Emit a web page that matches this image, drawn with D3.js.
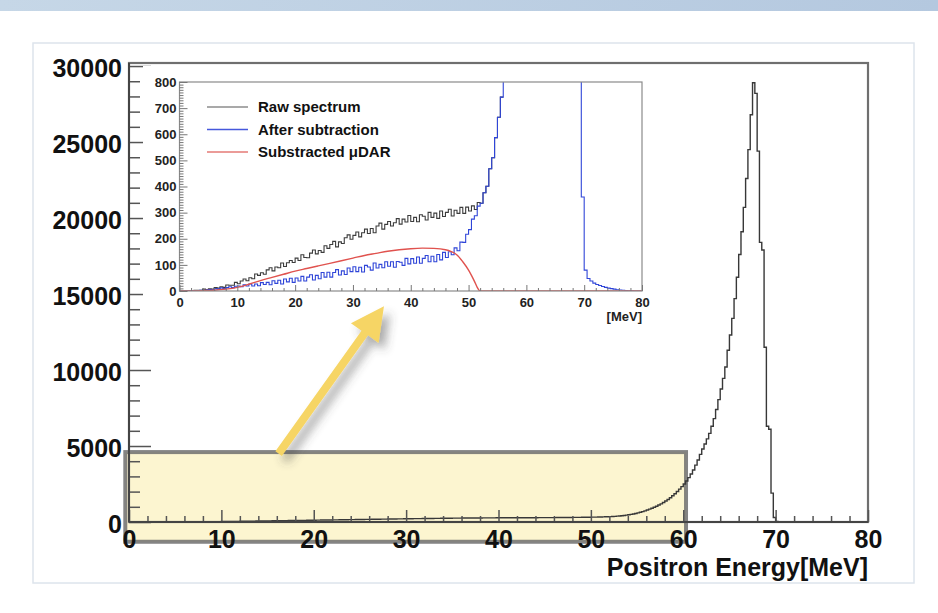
<!DOCTYPE html>
<html>
<head>
<meta charset="utf-8">
<script src="https://cdn.jsdelivr.net/npm/d3@7"></script>
<style>
  body { margin: 0; background: #ffffff; }
  svg { display: block; font-family: "Liberation Sans", Arial, Helvetica, sans-serif; font-weight: bold; }
</style>
</head>
<body>
<div class="chartContainer"></div>
<script>
// main histogram, 0.25 MeV bins from 0 to 80 MeV (one row = 5 MeV)
var mainBinWidth = 0.25;
var mainCounts = [
    0,0,0,0,1,1,1,1,2,2,2,3,3,3,4,4,5,5,6,6,
    7,7,8,9,10,11,12,13,14,15,16,17,18,19,21,22,23,24,26,27,
    29,31,33,35,37,39,41,43,46,48,50,52,55,57,59,62,64,66,68,71,
    73,75,78,80,82,85,87,89,92,94,96,99,101,103,106,108,110,113,115,117,
    120,122,124,127,129,131,134,136,138,141,143,145,148,150,152,155,157,159,162,164,
    166,169,171,173,176,178,180,183,185,187,190,192,194,197,199,201,204,206,208,211,
    213,215,217,219,221,223,225,227,229,231,233,235,237,239,241,243,245,247,249,251,
    253,254,256,257,259,260,262,263,264,265,266,267,268,269,270,271,272,273,274,275,
    276,276,277,278,278,279,279,280,280,281,281,282,282,283,283,284,284,285,285,286,
    287,288,289,290,291,292,293,294,296,297,299,300,302,303,305,307,309,311,313,315,
    318,321,324,328,332,337,342,348,355,363,372,384,398,414,432,452,475,500,528,560,
    600,640,685,735,790,845,905,970,1040,1115,1195,1285,1380,1485,1600,1725,1860,2005,2160,2330,
    2500,2700,2920,3160,3420,3740,4080,4450,4800,5130,5470,5830,6300,6800,7400,8050,8750,9450,10200,11300,
    12300,13400,14700,16100,17600,19100,20700,22600,24500,26800,28900,28200,24400,18400,17900,11500,6300,6100,1900,300,
    40,12,6,4,3,2,2,1,1,1,0,0,0,0,0,0,0,0,0,0,
    0,0,0,0,0,0,0,0,0,0,0,0,0,0,0,0,0,0,0,0
];

// inset, 0.5 MeV bins (one row = 5 MeV)
var insetBinWidth = 0.5;
// raw spectrum, 0 - 56 MeV (above that it sits under the blue one)
var rawCounts = [
    0,0,1,2,1,3,3,3,7,5,
    8,7,13,11,16,14,23,22,22,33,
    28,38,46,39,51,47,65,60,70,64,
    81,89,77,92,89,107,94,108,117,109,
    126,117,139,128,127,145,157,142,155,148,
    173,163,178,190,169,188,182,204,215,198,
    213,226,207,223,237,220,239,223,249,260,
    237,255,266,249,261,277,256,275,264,289,
    266,282,265,292,286,272,301,282,298,278,
    306,285,301,313,287,309,297,320,297,321,
    306,326,312,339,336,376,401,468,510,587,
    665,742
];
// after subtraction, 0 - 80 MeV
var subtractedCounts = [
    0,0,1,0,2,1,1,3,2,4,
    6,4,9,7,12,9,13,16,13,18,
    19,16,24,19,27,19,27,20,32,25,
    33,24,39,29,41,27,46,35,49,33,
    50,38,56,38,53,62,42,60,47,71,
    53,72,53,71,82,61,77,63,88,74,
    93,74,91,73,98,92,80,107,88,102,
    89,112,95,112,91,113,110,98,125,104,
    124,106,130,106,125,136,112,133,112,140,
    119,148,128,150,139,165,154,187,186,217,
    235,275,288,325,336,376,401,468,510,587,
    665,742,850,985,1160,1340,1570,1830,2140,2500,
    2900,3450,4000,4700,5400,6200,7100,8200,9600,11200,
    13300,16000,19200,22600,26500,28600,21500,15000,5500,360,
    80,48,38,30,25,21,17,14,11,9,
    7,5,4,3,2,1,1,0,0,0
];
// subtracted mu decay-at-rest curve (smooth)
var darEnergy = [0,2,4,6,8,10,12,14,16,18,20,22,24,26,28,30,32,34,36,38,40,42,44,46,47,48,49,50,50.5,51,51.5,52,60,70,80];
var darCounts = [0,0.5,1.5,3,7,14,26,40,52,64,76,86,96,106,116,126,136,144,152,158,162,164,163,158,151,138,112,80,60,38,14,0,0,0,0];

var mainXTicks = [0,10,20,30,40,50,60,70,80];
var mainYTicks = [0,5000,10000,15000,20000,25000,30000];
var insetXTicks = [0,10,20,30,40,50,60,70,80];
var insetYTicks = [0,100,200,300,400,500,600,700,800];
var legendLabels = ['Raw spectrum', 'After subtraction', 'Substracted \u03bcDAR'];
var xTitle = 'Positron Energy[MeV]';
var insetUnit = '[MeV]';

// the highlighted region and the arrow, in main chart units (MeV, counts)
var zoomBox = {e0: -0.4, e1: 60.3, c0: -1300, c1: 4600};
var arrowFrom = [16.2, 4500];
var arrowTo = [27.6, 14200];

function binsToPoints(counts, bw) {
    var pts = counts.map((c, i) => [i * bw, c]);
    pts.push([counts.length * bw, counts[counts.length - 1]]);
    return pts;
}

function Graph() {
    const width = 938;
    const height = 613;

    const svg = d3.select('.chartContainer')
                  .append('svg')
                    .attr('width', width)
                    .attr('height', height);

    const defs = svg.append('defs');
    const grad = defs.append('linearGradient').attr('id', 'band');
    grad.append('stop').attr('offset', '0%').attr('stop-color', '#c6d7e7');
    grad.append('stop').attr('offset', '100%').attr('stop-color', '#b4c8df');

    const shadow = defs.append('filter').attr('id', 'shadow')
                       .attr('x', '-50%').attr('y', '-50%').attr('width', '200%').attr('height', '200%');
    shadow.append('feDropShadow')
          .attr('dx', 6).attr('dy', 7).attr('stdDeviation', 5)
          .attr('flood-color', '#444').attr('flood-opacity', 0.45);

    // page decoration: top band + card
    svg.append('rect').attr('x', 0).attr('y', 0).attr('width', width).attr('height', 11).attr('fill', 'url(#band)');
    svg.append('rect').attr('x', 33).attr('y', 43).attr('width', 881).attr('height', 540)
       .attr('fill', '#fff').attr('stroke', '#dde4ec').attr('stroke-width', 1.5);

    // main chart scales
    const xMain = d3.scaleLinear().domain([0, 80]).range([129, 868]);
    const yMain = d3.scaleLinear().domain([0, 30200]).range([522, 63]);

    // yellow highlight box (under everything)
    const box = svg.append('rect')
       .attr('x', xMain(zoomBox.e0))
       .attr('y', yMain(zoomBox.c1))
       .attr('width', xMain(zoomBox.e1) - xMain(zoomBox.e0))
       .attr('height', yMain(zoomBox.c0) - yMain(zoomBox.c1))
       .attr('fill', '#f8e78e').attr('fill-opacity', 0.42);

    // main histogram
    const stepLine = (xs, ys) => d3.line().x(d => xs(d[0])).y(d => ys(d[1])).curve(d3.curveStepAfter);
    svg.append('path')
       .datum(binsToPoints(mainCounts, mainBinWidth))
       .attr('d', stepLine(xMain, yMain))
       .attr('fill', 'none').attr('stroke', '#383838').attr('stroke-width', 1.4);

    // frame
    svg.append('rect').attr('x', 129).attr('y', 63).attr('width', 739).attr('height', 459)
       .attr('fill', 'none').attr('stroke', '#6f6f6f').attr('stroke-width', 2.2);

    // minor ticks
    const minorY = d3.range(0, 30001, 1000).filter(v => v % 5000 !== 0);
    svg.append('g').attr('transform', 'translate(129,0)')
       .call(d3.axisLeft(yMain).tickValues(minorY).tickSize(-11).tickFormat(''))
       .call(g => g.select('.domain').remove());
    const minorX = d3.range(0, 81, 2).filter(v => v % 10 !== 0);
    svg.append('g').attr('transform', 'translate(0,522)')
       .call(d3.axisBottom(xMain).tickValues(minorX).tickSize(-6).tickFormat(''))
       .call(g => g.select('.domain').remove());

    // major ticks and labels
    const yAx = svg.append('g').attr('transform', 'translate(129,0)')
       .call(d3.axisLeft(yMain).tickValues(mainYTicks).tickSize(-22).tickPadding(7).tickFormat(d3.format('d')));
    const xAx = svg.append('g').attr('transform', 'translate(0,522)')
       .call(d3.axisBottom(xMain).tickValues(mainXTicks).tickSize(-12).tickPadding(8));
    [yAx, xAx].forEach(g => {
        g.select('.domain').remove();
        g.attr('font-family', null).attr('font-size', null);
        g.selectAll('text').attr('font-size', 25).attr('fill', '#111');
    });
    yAx.selectAll('text').attr('dy', '0.4em');
    svg.selectAll('.tick line').attr('stroke', '#555').attr('stroke-width', 1.5);

    // axis lines
    svg.append('line').attr('x1', 129).attr('x2', 129).attr('y1', 63).attr('y2', 522).attr('stroke', '#444').attr('stroke-width', 2);
    svg.append('line').attr('x1', 129).attr('x2', 868).attr('y1', 522).attr('y2', 522).attr('stroke', '#444').attr('stroke-width', 2);

    svg.append('text')
       .attr('x', 868).attr('y', 576)
       .attr('text-anchor', 'end')
       .attr('font-size', 25).attr('fill', '#111')
       .text(xTitle);

    // box border drawn over the axis
    box.clone()
       .attr('fill', 'none')
       .attr('stroke', '#6e6e6e').attr('stroke-opacity', 0.85).attr('stroke-width', 4);

    // ---- inset pad ----
    svg.append('rect').attr('x', 143).attr('y', 66).attr('width', 515).attr('height', 260).attr('fill', '#fff');

    const xIn = d3.scaleLinear().domain([0, 80]).range([179.5, 642]);
    const yIn = d3.scaleLinear().domain([0, 800]).range([291, 82]);

    defs.append('clipPath').attr('id', 'insetClip')
        .append('rect').attr('x', 179.5).attr('y', 82).attr('width', 462.5).attr('height', 209);

    const inset = svg.append('g');
    const curves = inset.append('g').attr('clip-path', 'url(#insetClip)');

    curves.append('path')
          .datum(binsToPoints(rawCounts, insetBinWidth))
          .attr('d', stepLine(xIn, yIn))
          .attr('fill', 'none').attr('stroke', '#3c3c3c').attr('stroke-width', 1.1);
    curves.append('path')
          .datum(binsToPoints(subtractedCounts, insetBinWidth))
          .attr('d', stepLine(xIn, yIn))
          .attr('fill', 'none').attr('stroke', '#2f45d8').attr('stroke-width', 1.1);
    curves.append('path')
          .datum(darEnergy.map((e, i) => [e, darCounts[i]]))
          .attr('d', d3.line().x(d => xIn(d[0])).y(d => yIn(d[1])).curve(d3.curveMonotoneX))
          .attr('fill', 'none').attr('stroke', '#e0524e').attr('stroke-width', 1.4);

    inset.append('rect').attr('x', 179.5).attr('y', 82).attr('width', 462.5).attr('height', 209)
         .attr('fill', 'none').attr('stroke', '#8a8a8a').attr('stroke-width', 1.2);

    // inset ticks
    inset.append('g').attr('transform', 'translate(179.5,0)')
         .call(d3.axisLeft(yIn).tickValues(d3.range(0, 801, 10).filter(v => v % 100 !== 0)).tickSize(-4).tickFormat(''))
         .call(g => g.select('.domain').remove());
    inset.append('g').attr('transform', 'translate(0,291)')
         .call(d3.axisBottom(xIn).tickValues(d3.range(0, 81, 2).filter(v => v % 10 !== 0)).tickSize(-3).tickFormat(''))
         .call(g => g.select('.domain').remove());
    const yInAx = inset.append('g').attr('transform', 'translate(179.5,0)')
         .call(d3.axisLeft(yIn).tickValues(insetYTicks).tickSize(-8).tickPadding(3));
    const xInAx = inset.append('g').attr('transform', 'translate(0,291)')
         .call(d3.axisBottom(xIn).tickValues(insetXTicks).tickSize(-6).tickPadding(7));
    [yInAx, xInAx].forEach(g => {
        g.select('.domain').remove();
        g.attr('font-family', null).attr('font-size', null);
        g.selectAll('text').attr('font-size', 13).attr('fill', '#222');
    });
    inset.selectAll('.tick line').attr('stroke', '#777').attr('stroke-width', 1);

    inset.append('text')
         .attr('x', 642).attr('y', 321)
         .attr('text-anchor', 'end')
         .attr('font-size', 13).attr('fill', '#222')
         .text(insetUnit);

    // legend (the sample lines look paler than the curves in the original)
    const legendColours = ['#8c8c8c', '#4658dc', '#e47a76'];
    const legendY = [107, 129.5, 152];
    legendLabels.forEach((lab, i) => {
        inset.append('line')
             .attr('x1', 207).attr('x2', 248).attr('y1', legendY[i]).attr('y2', legendY[i])
             .attr('stroke', legendColours[i]).attr('stroke-width', 1.5);
        inset.append('text')
             .attr('x', 258).attr('y', legendY[i] + 5.4)
             .attr('font-size', 15).attr('fill', '#111')
             .text(lab);
    });

    // arrow from the yellow box up to the inset
    const p0 = [xMain(arrowFrom[0]), yMain(arrowFrom[1])];
    const p1 = [xMain(arrowTo[0]), yMain(arrowTo[1])];
    const ang = Math.atan2(p1[1] - p0[1], p1[0] - p0[0]);
    const headLen = 33, headHalf = 17, shaftHalf = 4;
    const ux = Math.cos(ang), uy = Math.sin(ang), nx = -uy, ny = ux;
    const base = [p1[0] - ux * headLen, p1[1] - uy * headLen];
    const arrowPts = [
        [p0[0] + nx * shaftHalf, p0[1] + ny * shaftHalf],
        [base[0] + nx * shaftHalf, base[1] + ny * shaftHalf],
        [base[0] + nx * headHalf, base[1] + ny * headHalf],
        p1,
        [base[0] - nx * headHalf, base[1] - ny * headHalf],
        [base[0] - nx * shaftHalf, base[1] - ny * shaftHalf],
        [p0[0] - nx * shaftHalf, p0[1] - ny * shaftHalf]
    ];
    svg.append('path')
       .attr('d', d3.line()(arrowPts) + 'Z')
       .attr('fill', '#f6d565')
       .attr('filter', 'url(#shadow)');
}

Graph();
</script>
</body>
</html>
